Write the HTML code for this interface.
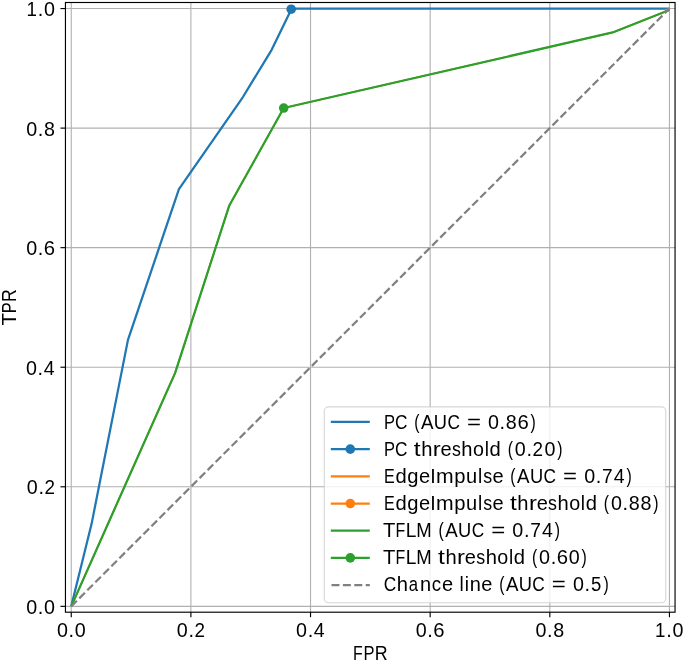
<!DOCTYPE html>
<html><head><meta charset="utf-8"><style>
html,body{margin:0;padding:0;background:#fff;width:685px;height:663px;overflow:hidden}
text{font-family:"Liberation Sans", sans-serif;fill:#000}
</style></head><body>
<svg width="685" height="663" viewBox="0 0 685 663" style="display:block;will-change:transform">
<rect width="685" height="663" fill="#fff"/>
<g>
<line x1="71.25" y1="2.5" x2="71.25" y2="612.2" stroke="#b0b0b0" stroke-width="1.1"/>
<line x1="65.45" y1="606.35" x2="675.05" y2="606.35" stroke="#b0b0b0" stroke-width="1.1"/>
<line x1="190.89" y1="2.5" x2="190.89" y2="612.2" stroke="#b0b0b0" stroke-width="1.1"/>
<line x1="65.45" y1="486.79" x2="675.05" y2="486.79" stroke="#b0b0b0" stroke-width="1.1"/>
<line x1="310.53" y1="2.5" x2="310.53" y2="612.2" stroke="#b0b0b0" stroke-width="1.1"/>
<line x1="65.45" y1="367.23" x2="675.05" y2="367.23" stroke="#b0b0b0" stroke-width="1.1"/>
<line x1="430.17" y1="2.5" x2="430.17" y2="612.2" stroke="#b0b0b0" stroke-width="1.1"/>
<line x1="65.45" y1="247.67" x2="675.05" y2="247.67" stroke="#b0b0b0" stroke-width="1.1"/>
<line x1="549.81" y1="2.5" x2="549.81" y2="612.2" stroke="#b0b0b0" stroke-width="1.1"/>
<line x1="65.45" y1="128.11" x2="675.05" y2="128.11" stroke="#b0b0b0" stroke-width="1.1"/>
<line x1="669.45" y1="2.5" x2="669.45" y2="612.2" stroke="#b0b0b0" stroke-width="1.1"/>
<line x1="65.45" y1="8.55" x2="675.05" y2="8.55" stroke="#b0b0b0" stroke-width="1.1"/>
<polyline points="71.25,606.35 91.59,523.85 127.96,339.85 178.93,189.09 242.93,97.02 271.65,49.80 291.75,8.55 669.45,8.55" fill="none" stroke="#1f77b4" stroke-width="2.25" stroke-linejoin="round" stroke-linecap="butt"/>
<polyline points="71.25,606.35 175.16,372.85 229.17,205.82 283.73,108.02 612.62,32.46 669.45,10.04" fill="none" stroke="#ff7f0e" stroke-width="1.6" stroke-linejoin="round"/>
<line x1="664.66" y1="10.46" x2="669.45" y2="8.55" stroke="#ff7f0e" stroke-width="1.6"/>
<polyline points="71.25,606.35 175.16,372.85 229.17,205.82 283.73,108.02 612.62,32.46 669.45,10.04" fill="none" stroke="#2ca02c" stroke-width="2.25" stroke-linejoin="round"/>
<line x1="71.25" y1="606.35" x2="669.45" y2="8.550000000000068" stroke="#808080" stroke-width="2.25" stroke-dasharray="7.92 3.42"/>
<circle cx="291.2" cy="9.2" r="4.8" fill="#1f77b4"/>
<circle cx="283.73" cy="108.02" r="4.0" fill="#ff7f0e"/>
<circle cx="283.73" cy="108.02" r="4.8" fill="#2ca02c"/>
<rect x="324.3" y="406.9" width="341.40000000000003" height="195.89999999999998" rx="4" fill="#fff" fill-opacity="0.8" stroke="#cccccc" stroke-opacity="0.8" stroke-width="1.1"/>
<line x1="330.8" y1="421.96" x2="369.8" y2="421.96" stroke="#1f77b4" stroke-width="2.25"/>
<g font-size="19.7"><text transform="translate(389.70,428.70) scale(0.836,1)" x="-6.86">P</text><text transform="translate(401.23,428.70) scale(0.877,1)" x="-7.24">C</text><text transform="translate(417.30,428.70) scale(0.800,1)" x="-3.83">(</text><text transform="translate(427.23,428.70) scale(0.951,1)" x="-6.57">A</text><text transform="translate(440.40,428.70) scale(0.928,1)" x="-7.11">U</text><text transform="translate(453.72,428.70) scale(0.877,1)" x="-7.24">C</text><text transform="translate(473.90,428.70) scale(1.216,1)" x="-5.75">=</text><text x="488.05" y="428.70">0</text><text transform="translate(502.39,428.70) scale(1.013,1)" x="-2.74">.</text><text x="505.79" y="428.70">8</text><text transform="translate(523.17,428.70) scale(1.030,1)" x="-5.55">6</text><text transform="translate(532.59,428.70) scale(0.800,1)" x="-2.73">)</text></g>
<line x1="330.8" y1="449.15" x2="369.8" y2="449.15" stroke="#1f77b4" stroke-width="2.25"/>
<circle cx="350.30" cy="449.15" r="4.8" fill="#1f77b4"/>
<g font-size="19.7"><text transform="translate(389.70,455.77) scale(0.836,1)" x="-6.86">P</text><text transform="translate(401.23,455.77) scale(0.877,1)" x="-7.24">C</text><text transform="translate(417.29,455.77) scale(1.250,1)" x="-2.82">t</text><text transform="translate(426.86,455.77) scale(1.025,1)" x="-5.52">h</text><text transform="translate(437.37,455.77) scale(1.209,1)" x="-3.76">r</text><text transform="translate(446.08,455.77) scale(1.018,1)" x="-5.46">e</text><text transform="translate(456.27,455.77) scale(0.905,1)" x="-4.85">s</text><text transform="translate(467.02,455.77) scale(1.025,1)" x="-5.52">h</text><text x="473.07" y="455.77">o</text><text transform="translate(486.82,455.77) scale(0.966,1)" x="-2.19">l</text><text transform="translate(494.98,455.77) scale(1.026,1)" x="-5.26">d</text><text transform="translate(510.81,455.77) scale(0.800,1)" x="-3.83">(</text><text x="514.82" y="455.77">0</text><text transform="translate(529.16,455.77) scale(1.013,1)" x="-2.74">.</text><text transform="translate(537.79,455.77) scale(0.959,1)" x="-5.48">2</text><text x="544.40" y="455.77">0</text><text transform="translate(559.37,455.77) scale(0.800,1)" x="-2.73">)</text></g>
<line x1="330.8" y1="476.34" x2="369.8" y2="476.34" stroke="#ff7f0e" stroke-width="2.25"/>
<g font-size="19.7"><text transform="translate(389.69,482.84) scale(0.819,1)" x="-6.95">E</text><text transform="translate(400.82,482.84) scale(1.026,1)" x="-5.26">d</text><text transform="translate(412.63,482.84) scale(1.026,1)" x="-5.26">g</text><text transform="translate(424.60,482.84) scale(1.018,1)" x="-5.46">e</text><text transform="translate(433.05,482.84) scale(0.994,1)" x="-2.74">I</text><text transform="translate(444.91,482.84) scale(1.075,1)" x="-8.21">m</text><text transform="translate(460.15,482.84) scale(1.026,1)" x="-5.69">p</text><text transform="translate(471.56,482.84) scale(1.017,1)" x="-5.47">u</text><text transform="translate(480.09,482.84) scale(0.966,1)" x="-2.19">l</text><text transform="translate(487.57,482.84) scale(0.905,1)" x="-4.85">s</text><text transform="translate(498.10,482.84) scale(1.018,1)" x="-5.46">e</text><text transform="translate(513.41,482.84) scale(0.800,1)" x="-3.83">(</text><text transform="translate(523.34,482.84) scale(0.951,1)" x="-6.57">A</text><text transform="translate(536.51,482.84) scale(0.928,1)" x="-7.11">U</text><text transform="translate(549.83,482.84) scale(0.877,1)" x="-7.24">C</text><text transform="translate(570.01,482.84) scale(1.216,1)" x="-5.75">=</text><text x="584.15" y="482.84">0</text><text transform="translate(598.50,482.84) scale(1.013,1)" x="-2.74">.</text><text transform="translate(607.35,482.84) scale(0.973,1)" x="-5.49">7</text><text transform="translate(619.14,482.84) scale(0.995,1)" x="-5.42">4</text><text transform="translate(628.70,482.84) scale(0.800,1)" x="-2.73">)</text></g>
<line x1="330.8" y1="503.53" x2="369.8" y2="503.53" stroke="#ff7f0e" stroke-width="2.25"/>
<circle cx="350.30" cy="503.53" r="4.8" fill="#ff7f0e"/>
<g font-size="19.7"><text transform="translate(389.69,509.91) scale(0.819,1)" x="-6.95">E</text><text transform="translate(400.82,509.91) scale(1.026,1)" x="-5.26">d</text><text transform="translate(412.63,509.91) scale(1.026,1)" x="-5.26">g</text><text transform="translate(424.60,509.91) scale(1.018,1)" x="-5.46">e</text><text transform="translate(433.05,509.91) scale(0.994,1)" x="-2.74">I</text><text transform="translate(444.91,509.91) scale(1.075,1)" x="-8.21">m</text><text transform="translate(460.15,509.91) scale(1.026,1)" x="-5.69">p</text><text transform="translate(471.56,509.91) scale(1.017,1)" x="-5.47">u</text><text transform="translate(480.09,509.91) scale(0.966,1)" x="-2.19">l</text><text transform="translate(487.57,509.91) scale(0.905,1)" x="-4.85">s</text><text transform="translate(498.10,509.91) scale(1.018,1)" x="-5.46">e</text><text transform="translate(513.40,509.91) scale(1.250,1)" x="-2.82">t</text><text transform="translate(522.97,509.91) scale(1.025,1)" x="-5.52">h</text><text transform="translate(533.47,509.91) scale(1.209,1)" x="-3.76">r</text><text transform="translate(542.19,509.91) scale(1.018,1)" x="-5.46">e</text><text transform="translate(552.38,509.91) scale(0.905,1)" x="-4.85">s</text><text transform="translate(563.13,509.91) scale(1.025,1)" x="-5.52">h</text><text x="569.18" y="509.91">o</text><text transform="translate(582.93,509.91) scale(0.966,1)" x="-2.19">l</text><text transform="translate(591.08,509.91) scale(1.026,1)" x="-5.26">d</text><text transform="translate(606.91,509.91) scale(0.800,1)" x="-3.83">(</text><text x="610.93" y="509.91">0</text><text transform="translate(625.27,509.91) scale(1.013,1)" x="-2.74">.</text><text x="628.67" y="509.91">8</text><text x="640.51" y="509.91">8</text><text transform="translate(655.47,509.91) scale(0.800,1)" x="-2.73">)</text></g>
<line x1="330.8" y1="530.72" x2="369.8" y2="530.72" stroke="#2ca02c" stroke-width="2.25"/>
<g font-size="19.7"><text transform="translate(389.18,536.98) scale(1.029,1)" x="-6.01">T</text><text transform="translate(400.58,536.98) scale(0.809,1)" x="-6.43">F</text><text transform="translate(411.61,536.98) scale(0.972,1)" x="-5.96">L</text><text transform="translate(423.95,536.98) scale(0.941,1)" x="-8.21">M</text><text transform="translate(441.57,536.98) scale(0.800,1)" x="-3.83">(</text><text transform="translate(451.50,536.98) scale(0.951,1)" x="-6.57">A</text><text transform="translate(464.67,536.98) scale(0.928,1)" x="-7.11">U</text><text transform="translate(477.99,536.98) scale(0.877,1)" x="-7.24">C</text><text transform="translate(498.17,536.98) scale(1.216,1)" x="-5.75">=</text><text x="512.31" y="536.98">0</text><text transform="translate(526.66,536.98) scale(1.013,1)" x="-2.74">.</text><text transform="translate(535.51,536.98) scale(0.973,1)" x="-5.49">7</text><text transform="translate(547.31,536.98) scale(0.995,1)" x="-5.42">4</text><text transform="translate(556.86,536.98) scale(0.800,1)" x="-2.73">)</text></g>
<line x1="330.8" y1="557.91" x2="369.8" y2="557.91" stroke="#2ca02c" stroke-width="2.25"/>
<circle cx="350.30" cy="557.91" r="4.8" fill="#2ca02c"/>
<g font-size="19.7"><text transform="translate(389.18,564.05) scale(1.029,1)" x="-6.01">T</text><text transform="translate(400.58,564.05) scale(0.809,1)" x="-6.43">F</text><text transform="translate(411.61,564.05) scale(0.972,1)" x="-5.96">L</text><text transform="translate(423.95,564.05) scale(0.941,1)" x="-8.21">M</text><text transform="translate(441.56,564.05) scale(1.250,1)" x="-2.82">t</text><text transform="translate(451.13,564.05) scale(1.025,1)" x="-5.52">h</text><text transform="translate(461.63,564.05) scale(1.209,1)" x="-3.76">r</text><text transform="translate(470.35,564.05) scale(1.018,1)" x="-5.46">e</text><text transform="translate(480.54,564.05) scale(0.905,1)" x="-4.85">s</text><text transform="translate(491.29,564.05) scale(1.025,1)" x="-5.52">h</text><text x="497.34" y="564.05">o</text><text transform="translate(511.09,564.05) scale(0.966,1)" x="-2.19">l</text><text transform="translate(519.24,564.05) scale(1.026,1)" x="-5.26">d</text><text transform="translate(535.08,564.05) scale(0.800,1)" x="-3.83">(</text><text x="539.09" y="564.05">0</text><text transform="translate(553.43,564.05) scale(1.013,1)" x="-2.74">.</text><text transform="translate(562.38,564.05) scale(1.030,1)" x="-5.55">6</text><text x="568.67" y="564.05">0</text><text transform="translate(583.63,564.05) scale(0.800,1)" x="-2.73">)</text></g>
<line x1="331.5" y1="585.10" x2="369.8" y2="585.10" stroke="#808080" stroke-width="2.25" stroke-dasharray="7.95 3.45"/>
<g font-size="19.7"><text transform="translate(390.01,591.12) scale(0.877,1)" x="-7.24">C</text><text transform="translate(402.44,591.12) scale(1.025,1)" x="-5.52">h</text><text transform="translate(413.69,591.12) scale(0.849,1)" x="-5.89">a</text><text transform="translate(425.63,591.12) scale(1.017,1)" x="-5.49">n</text><text transform="translate(436.51,591.12) scale(0.946,1)" x="-5.08">c</text><text transform="translate(447.43,591.12) scale(1.018,1)" x="-5.46">e</text><text transform="translate(461.63,591.12) scale(0.966,1)" x="-2.19">l</text><text transform="translate(466.80,591.12) scale(0.966,1)" x="-2.19">i</text><text transform="translate(475.33,591.12) scale(1.017,1)" x="-5.49">n</text><text transform="translate(486.91,591.12) scale(1.018,1)" x="-5.46">e</text><text transform="translate(502.21,591.12) scale(0.800,1)" x="-3.83">(</text><text transform="translate(512.14,591.12) scale(0.951,1)" x="-6.57">A</text><text transform="translate(525.31,591.12) scale(0.928,1)" x="-7.11">U</text><text transform="translate(538.63,591.12) scale(0.877,1)" x="-7.24">C</text><text transform="translate(558.81,591.12) scale(1.216,1)" x="-5.75">=</text><text x="572.95" y="591.12">0</text><text transform="translate(587.30,591.12) scale(1.013,1)" x="-2.74">.</text><text transform="translate(596.08,591.12) scale(0.940,1)" x="-5.46">5</text><text transform="translate(605.67,591.12) scale(0.800,1)" x="-2.73">)</text></g>
<rect x="65.45" y="2.5" width="609.60" height="609.70" fill="none" stroke="#000" stroke-width="1.15"/>
<line x1="60.45" y1="606.35" x2="65.45" y2="606.35" stroke="#000" stroke-width="1.15"/>
<line x1="71.25" y1="612.2" x2="71.25" y2="617.2" stroke="#000" stroke-width="1.15"/>
<g font-size="19.7"><text x="26.19" y="613.75">0</text><text transform="translate(40.53,613.75) scale(1.013,1)" x="-2.74">.</text><text x="43.94" y="613.75">0</text></g>
<g font-size="19.7"><text x="56.90" y="636.70">0</text><text transform="translate(71.24,636.70) scale(1.013,1)" x="-2.74">.</text><text x="74.65" y="636.70">0</text></g>
<line x1="60.45" y1="486.79" x2="65.45" y2="486.79" stroke="#000" stroke-width="1.15"/>
<line x1="190.89" y1="612.2" x2="190.89" y2="617.2" stroke="#000" stroke-width="1.15"/>
<g font-size="19.7"><text x="26.82" y="494.19">0</text><text transform="translate(41.17,494.19) scale(1.013,1)" x="-2.74">.</text><text transform="translate(49.79,494.19) scale(0.959,1)" x="-5.48">2</text></g>
<g font-size="19.7"><text x="176.86" y="636.70">0</text><text transform="translate(191.20,636.70) scale(1.013,1)" x="-2.74">.</text><text transform="translate(199.83,636.70) scale(0.959,1)" x="-5.48">2</text></g>
<line x1="60.45" y1="367.23" x2="65.45" y2="367.23" stroke="#000" stroke-width="1.15"/>
<line x1="310.53" y1="612.2" x2="310.53" y2="617.2" stroke="#000" stroke-width="1.15"/>
<g font-size="19.7"><text x="26.00" y="374.63">0</text><text transform="translate(40.35,374.63) scale(1.013,1)" x="-2.74">.</text><text transform="translate(49.16,374.63) scale(0.995,1)" x="-5.42">4</text></g>
<g font-size="19.7"><text x="296.09" y="636.70">0</text><text transform="translate(310.43,636.70) scale(1.013,1)" x="-2.74">.</text><text transform="translate(319.25,636.70) scale(0.995,1)" x="-5.42">4</text></g>
<line x1="60.45" y1="247.67" x2="65.45" y2="247.67" stroke="#000" stroke-width="1.15"/>
<line x1="430.17" y1="612.2" x2="430.17" y2="617.2" stroke="#000" stroke-width="1.15"/>
<g font-size="19.7"><text x="26.13" y="255.07">0</text><text transform="translate(40.48,255.07) scale(1.013,1)" x="-2.74">.</text><text transform="translate(49.42,255.07) scale(1.030,1)" x="-5.55">6</text></g>
<g font-size="19.7"><text x="415.79" y="636.70">0</text><text transform="translate(430.14,636.70) scale(1.013,1)" x="-2.74">.</text><text transform="translate(439.08,636.70) scale(1.030,1)" x="-5.55">6</text></g>
<line x1="60.45" y1="128.11" x2="65.45" y2="128.11" stroke="#000" stroke-width="1.15"/>
<line x1="549.81" y1="612.2" x2="549.81" y2="617.2" stroke="#000" stroke-width="1.15"/>
<g font-size="19.7"><text x="26.23" y="135.51">0</text><text transform="translate(40.57,135.51) scale(1.013,1)" x="-2.74">.</text><text x="43.97" y="135.51">8</text></g>
<g font-size="19.7"><text x="535.48" y="636.70">0</text><text transform="translate(549.82,636.70) scale(1.013,1)" x="-2.74">.</text><text x="553.23" y="636.70">8</text></g>
<line x1="60.45" y1="8.55" x2="65.45" y2="8.55" stroke="#000" stroke-width="1.15"/>
<line x1="669.45" y1="612.2" x2="669.45" y2="617.2" stroke="#000" stroke-width="1.15"/>
<g font-size="19.7"><text transform="translate(31.83,15.95) scale(0.951,1)" x="-5.74">1</text><text transform="translate(40.53,15.95) scale(1.013,1)" x="-2.74">.</text><text x="43.94" y="15.95">0</text></g>
<g font-size="19.7"><text transform="translate(660.33,636.70) scale(0.951,1)" x="-5.74">1</text><text transform="translate(669.03,636.70) scale(1.013,1)" x="-2.74">.</text><text x="672.44" y="636.70">0</text></g>
<g font-size="19.7"><text transform="translate(358.16,659.50) scale(0.809,1)" x="-6.43">F</text><text transform="translate(369.34,659.50) scale(0.836,1)" x="-6.86">P</text><text transform="translate(381.46,659.50) scale(0.904,1)" x="-7.46">R</text></g>
<g transform="translate(15.9,307.6) rotate(-90)"><g font-size="19.7"><text transform="translate(-11.77,0.00) scale(1.029,1)" x="-6.01">T</text><text transform="translate(0.11,0.00) scale(0.836,1)" x="-6.86">P</text><text transform="translate(12.23,0.00) scale(0.904,1)" x="-7.46">R</text></g></g>
</g>
</svg>
</body></html>
